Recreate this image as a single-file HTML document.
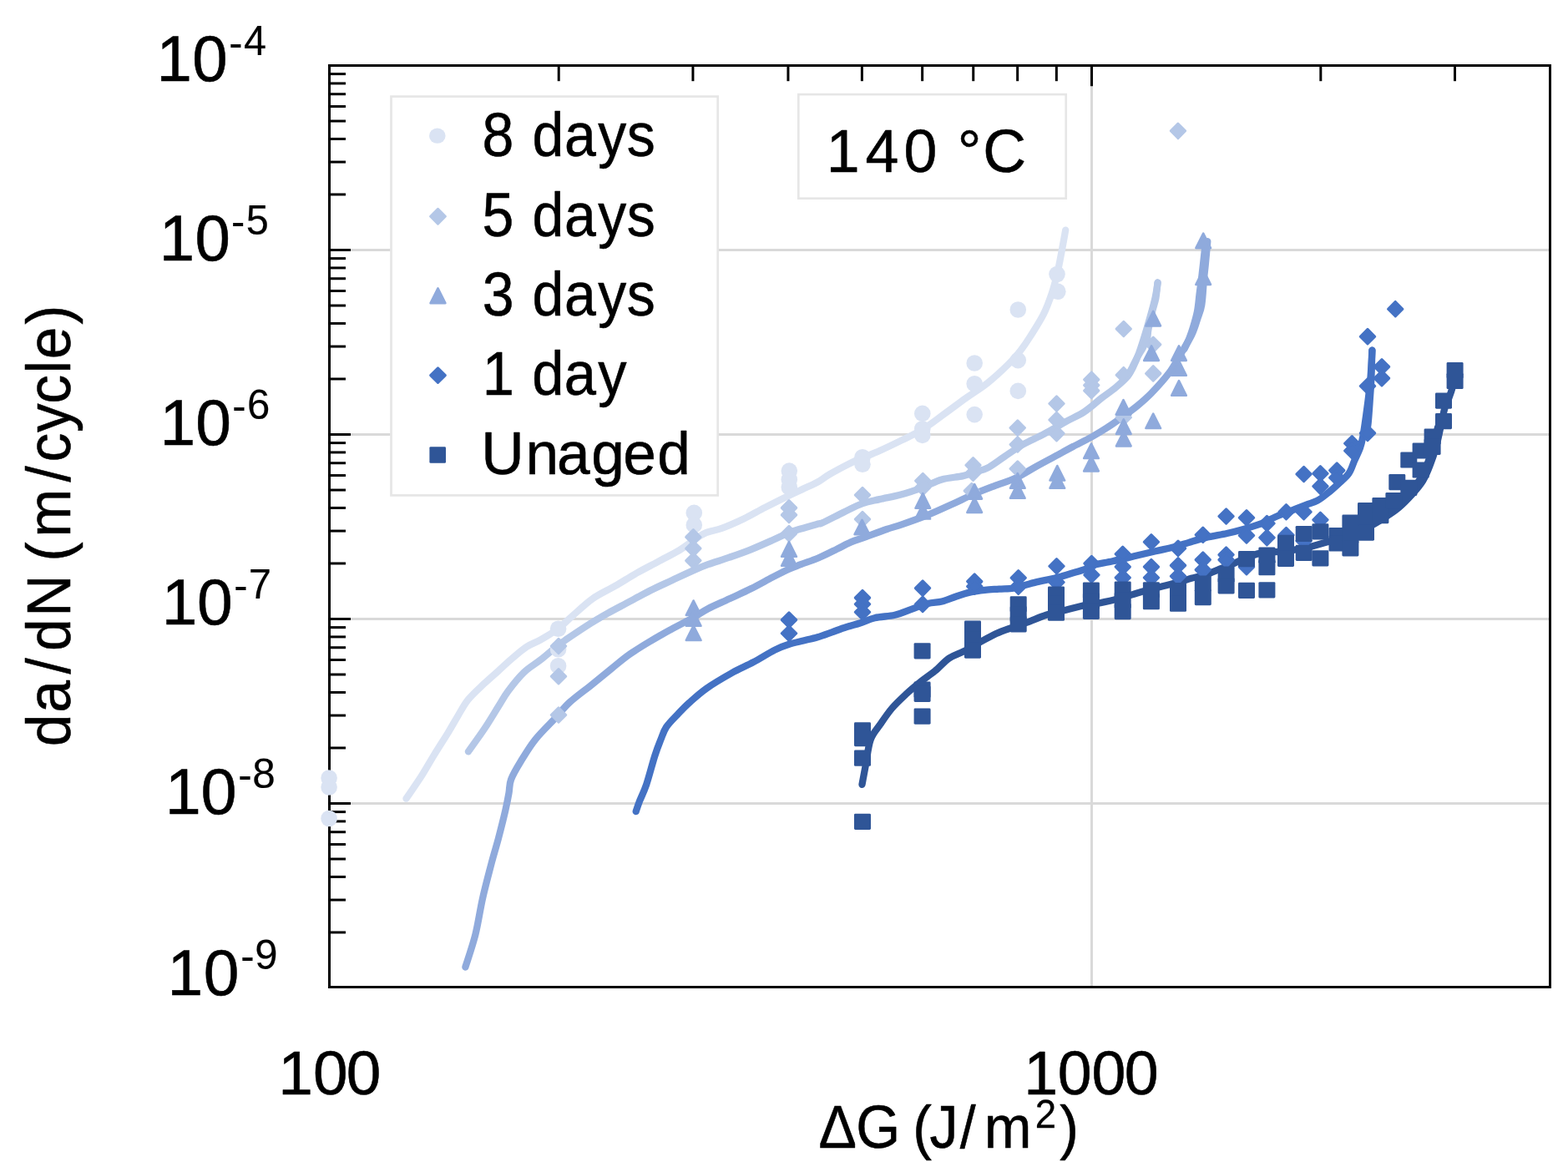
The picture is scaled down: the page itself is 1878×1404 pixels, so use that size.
<!DOCTYPE html>
<html lang="en"><head><meta charset="utf-8"><title>da/dN vs ΔG – 140 °C</title>
<style>html,body{margin:0;padding:0;background:#fff}body{width:1878px;height:1404px;overflow:hidden}svg{display:block}text{font-family:"Liberation Sans",sans-serif;fill:#000;stroke:#000;stroke-width:0.55px;stroke-linejoin:round}</style>
</head><body>
<svg width="1878" height="1404" viewBox="0 0 1878 1404">
<rect width="1878" height="1404" fill="#fff"/>
<g stroke="#d9d9d9" stroke-width="3" fill="none" shape-rendering="crispEdges">
<line x1="394.5" y1="299.5" x2="1856.5" y2="299.5"/>
<line x1="394.5" y1="520.5" x2="1856.5" y2="520.5"/>
<line x1="394.5" y1="741.5" x2="1856.5" y2="741.5"/>
<line x1="394.5" y1="962.5" x2="1856.5" y2="962.5"/>
<line x1="1307.5" y1="78.5" x2="1307.5" y2="1182.5"/>
</g>
<g stroke="#000" stroke-width="3.00" fill="none">
<line x1="394.5" y1="232.97" x2="414.0" y2="232.97"/>
<line x1="394.5" y1="194.06" x2="414.0" y2="194.06"/>
<line x1="394.5" y1="166.44" x2="414.0" y2="166.44"/>
<line x1="394.5" y1="145.03" x2="414.0" y2="145.03"/>
<line x1="394.5" y1="127.53" x2="414.0" y2="127.53"/>
<line x1="394.5" y1="112.73" x2="414.0" y2="112.73"/>
<line x1="394.5" y1="99.92" x2="414.0" y2="99.92"/>
<line x1="394.5" y1="88.61" x2="414.0" y2="88.61"/>
<line x1="394.5" y1="453.97" x2="414.0" y2="453.97"/>
<line x1="394.5" y1="415.06" x2="414.0" y2="415.06"/>
<line x1="394.5" y1="387.44" x2="414.0" y2="387.44"/>
<line x1="394.5" y1="366.03" x2="414.0" y2="366.03"/>
<line x1="394.5" y1="348.53" x2="414.0" y2="348.53"/>
<line x1="394.5" y1="333.73" x2="414.0" y2="333.73"/>
<line x1="394.5" y1="320.92" x2="414.0" y2="320.92"/>
<line x1="394.5" y1="309.61" x2="414.0" y2="309.61"/>
<line x1="394.5" y1="674.97" x2="414.0" y2="674.97"/>
<line x1="394.5" y1="636.06" x2="414.0" y2="636.06"/>
<line x1="394.5" y1="608.44" x2="414.0" y2="608.44"/>
<line x1="394.5" y1="587.03" x2="414.0" y2="587.03"/>
<line x1="394.5" y1="569.53" x2="414.0" y2="569.53"/>
<line x1="394.5" y1="554.73" x2="414.0" y2="554.73"/>
<line x1="394.5" y1="541.92" x2="414.0" y2="541.92"/>
<line x1="394.5" y1="530.61" x2="414.0" y2="530.61"/>
<line x1="394.5" y1="895.97" x2="414.0" y2="895.97"/>
<line x1="394.5" y1="857.06" x2="414.0" y2="857.06"/>
<line x1="394.5" y1="829.44" x2="414.0" y2="829.44"/>
<line x1="394.5" y1="808.03" x2="414.0" y2="808.03"/>
<line x1="394.5" y1="790.53" x2="414.0" y2="790.53"/>
<line x1="394.5" y1="775.73" x2="414.0" y2="775.73"/>
<line x1="394.5" y1="762.92" x2="414.0" y2="762.92"/>
<line x1="394.5" y1="751.61" x2="414.0" y2="751.61"/>
<line x1="394.5" y1="1116.97" x2="414.0" y2="1116.97"/>
<line x1="394.5" y1="1078.06" x2="414.0" y2="1078.06"/>
<line x1="394.5" y1="1050.44" x2="414.0" y2="1050.44"/>
<line x1="394.5" y1="1029.03" x2="414.0" y2="1029.03"/>
<line x1="394.5" y1="1011.53" x2="414.0" y2="1011.53"/>
<line x1="394.5" y1="996.73" x2="414.0" y2="996.73"/>
<line x1="394.5" y1="983.92" x2="414.0" y2="983.92"/>
<line x1="394.5" y1="972.61" x2="414.0" y2="972.61"/>
<line x1="394.5" y1="299.50" x2="420.0" y2="299.50"/>
<line x1="394.5" y1="520.50" x2="420.0" y2="520.50"/>
<line x1="394.5" y1="741.50" x2="420.0" y2="741.50"/>
<line x1="394.5" y1="962.50" x2="420.0" y2="962.50"/>
<line x1="669.22" y1="78.5" x2="669.22" y2="97.2"/>
<line x1="829.92" y1="78.5" x2="829.92" y2="97.2"/>
<line x1="943.94" y1="78.5" x2="943.94" y2="97.2"/>
<line x1="1032.38" y1="78.5" x2="1032.38" y2="97.2"/>
<line x1="1104.64" y1="78.5" x2="1104.64" y2="97.2"/>
<line x1="1165.74" y1="78.5" x2="1165.74" y2="97.2"/>
<line x1="1218.66" y1="78.5" x2="1218.66" y2="97.2"/>
<line x1="1265.34" y1="78.5" x2="1265.34" y2="97.2"/>
<line x1="1581.82" y1="78.5" x2="1581.82" y2="97.2"/>
<line x1="1742.52" y1="78.5" x2="1742.52" y2="97.2"/>
<line x1="1307.50" y1="78.5" x2="1307.50" y2="103.2"/>
<rect x="394.50" y="78.50" width="1462.00" height="1104.00" shape-rendering="crispEdges"/>
</g>
<g fill="none" stroke-width="8.3" stroke-linecap="round" stroke-linejoin="round">
<path d="M486.5 956.7C489.5 952.3 498.8 939.0 504.4 930.3C509.9 921.6 514.4 913.4 519.8 904.6C525.2 895.8 532.0 885.3 536.9 877.3C541.8 869.3 544.9 863.4 548.9 856.8C552.9 850.2 555.8 844.2 560.9 837.9C566.0 831.6 573.7 824.8 579.7 819.1C585.7 813.4 591.1 808.9 596.8 803.8C602.5 798.7 608.1 793.2 613.8 788.4C619.5 783.5 625.2 778.4 630.9 774.7C636.6 771.0 641.7 769.8 648.0 766.2C654.3 762.6 662.2 757.7 668.5 753.0C674.8 748.3 678.8 743.8 685.6 737.8C692.5 731.8 701.1 723.3 709.6 717.3C718.1 711.3 728.1 707.0 736.9 701.9C745.7 696.8 754.0 691.4 762.6 686.5C771.2 681.6 779.7 677.4 788.2 672.8C796.7 668.2 806.7 663.4 813.8 659.1C820.9 654.8 825.8 650.6 830.9 647.2C836.0 643.8 838.9 641.0 844.6 638.6C850.3 636.2 857.4 635.5 865.1 632.6C872.8 629.8 882.2 625.6 890.8 621.5C899.3 617.4 907.6 612.4 916.4 607.9C925.2 603.4 935.2 598.3 943.8 594.2C952.3 590.1 961.7 586.0 967.7 583.1C973.7 580.2 975.7 579.6 980.0 577.1C984.3 574.6 987.2 572.0 993.7 568.2C1000.2 564.4 1012.8 557.8 1019.3 554.5C1025.8 551.2 1027.3 550.9 1033.0 548.5C1038.7 546.1 1045.7 543.5 1053.5 540.0C1061.3 536.5 1071.5 531.6 1080.0 527.4C1088.5 523.1 1096.2 519.8 1104.8 514.5C1113.3 509.2 1122.6 502.0 1131.3 495.7C1140.0 489.4 1148.4 483.0 1156.9 476.9C1165.5 470.8 1174.0 465.8 1182.6 459.0C1191.1 452.2 1201.7 442.3 1208.2 435.9C1214.8 429.5 1217.6 426.1 1221.9 420.5C1226.2 414.9 1229.6 409.9 1234.2 402.6C1238.8 395.3 1245.3 385.4 1249.6 376.9C1253.9 368.3 1256.9 359.9 1259.8 351.3C1262.7 342.8 1264.7 334.2 1266.7 325.6C1268.7 317.1 1270.2 308.3 1271.8 300.0C1273.4 291.7 1275.5 279.7 1276.2 275.6" stroke="#dae3f3"/>
<path d="M560.9 900.3C564.0 895.9 573.7 882.8 579.7 873.8C585.7 864.8 592.0 854.2 596.8 846.5C601.6 838.8 603.6 834.5 608.7 827.7C613.8 820.9 621.0 811.8 627.5 805.5C634.0 799.2 641.2 795.5 648.0 790.1C654.8 784.7 663.6 776.9 668.5 773.0C673.4 769.1 671.4 770.7 677.1 766.8C682.8 762.9 694.2 755.1 702.7 749.7C711.2 744.3 719.9 739.2 728.4 734.4C736.9 729.6 745.5 725.3 754.0 720.7C762.5 716.1 771.2 711.3 779.7 707.0C788.2 702.7 796.8 699.0 805.3 695.0C813.8 691.0 823.8 686.2 830.9 683.1C838.0 680.0 840.9 678.8 848.0 676.2C855.1 673.6 865.2 670.7 873.7 667.7C882.2 664.7 890.8 661.7 899.3 658.3C907.8 654.9 917.6 650.5 925.0 647.2C932.4 643.9 938.1 640.9 943.8 638.6C949.5 636.3 953.1 635.4 959.1 633.5C965.1 631.6 975.7 628.7 980.0 627.5C984.3 626.3 980.0 628.6 985.1 626.3C990.2 624.0 1002.8 617.4 1010.8 613.5C1018.8 609.6 1025.9 605.8 1033.0 603.2C1040.1 600.6 1045.8 599.9 1053.5 598.1C1061.2 596.3 1070.4 594.9 1079.1 592.5C1087.8 590.1 1097.5 586.8 1105.6 583.8C1113.7 580.8 1119.9 576.7 1127.9 574.4C1135.9 572.1 1146.7 571.7 1153.5 570.1C1160.3 568.5 1164.1 566.6 1168.9 565.0C1173.8 563.4 1176.9 563.7 1182.6 560.7C1188.3 557.7 1196.0 551.7 1203.1 547.0C1210.2 542.3 1217.3 537.0 1225.3 532.5C1233.3 528.0 1242.4 524.3 1250.9 519.7C1259.5 515.1 1268.6 509.5 1276.6 505.1C1284.6 500.7 1291.7 497.9 1298.8 493.2C1305.9 488.5 1313.0 481.8 1319.3 476.9C1325.6 472.0 1331.3 468.4 1336.4 464.1C1341.5 459.8 1346.7 455.3 1350.1 451.3C1353.5 447.3 1354.7 444.7 1357.0 440.0C1359.3 435.3 1361.2 431.3 1364.1 423.1C1367.0 414.9 1371.3 401.2 1374.4 390.6C1377.5 380.1 1380.9 368.5 1382.9 359.8C1385.0 351.1 1386.1 342.1 1386.7 338.5" stroke="#b4c7e7"/>
<path d="M1386.5 338.5C1386.1 341.6 1385.4 351.6 1384.3 357.4C1383.2 363.2 1381.5 367.2 1380.0 373.4C1378.5 379.6 1376.4 389.4 1375.4 394.8C1374.4 400.2 1375.0 401.9 1373.9 405.5C1372.9 409.1 1371.0 412.6 1369.1 416.2C1367.2 419.8 1364.8 423.0 1362.7 426.9C1360.6 430.8 1358.2 435.8 1356.3 439.7C1354.3 443.6 1351.9 448.3 1351.0 450.0" stroke="#b4c7e7"/>
<path d="M1444.0 289.5C1443.5 294.0 1441.8 309.2 1441.0 316.6C1440.2 324.1 1439.7 328.3 1439.0 334.2C1438.3 340.1 1437.4 345.5 1436.6 352.0C1435.8 358.5 1435.3 366.3 1434.0 373.0C1432.7 379.7 1430.6 386.7 1429.0 392.0C1427.4 397.3 1426.2 400.7 1424.5 405.0C1422.8 409.3 1419.5 415.8 1418.5 418.0" stroke="#8faadc"/>
<path d="M557.4 1158.5C559.4 1152.0 566.0 1133.1 569.4 1119.5C572.8 1105.9 574.8 1090.8 577.9 1076.8C581.0 1062.8 585.1 1047.7 588.2 1035.7C591.4 1023.7 593.9 1015.8 596.8 1005.0C599.6 994.2 603.2 980.0 605.3 970.8C607.4 961.6 608.4 956.2 609.5 950.0C610.6 943.8 609.7 940.1 612.1 933.7C614.5 927.3 619.2 919.5 624.1 911.5C629.0 903.5 634.4 894.3 641.2 885.8C648.0 877.2 658.3 867.6 665.1 860.2C671.9 852.8 675.1 848.0 682.2 841.4C689.3 834.8 699.6 827.5 707.9 820.9C716.2 814.2 724.1 807.7 731.8 801.5C739.5 795.3 746.0 789.5 754.0 783.9C762.0 778.3 771.2 772.8 779.7 767.7C788.2 762.6 796.8 757.9 805.3 753.2C813.8 748.5 823.8 743.5 830.9 739.5C838.0 735.5 840.9 732.9 848.0 729.2C855.1 725.5 865.2 721.3 873.7 717.3C882.2 713.3 890.8 709.6 899.3 705.3C907.8 701.0 917.6 695.5 925.0 691.6C932.4 687.8 938.1 684.8 943.8 682.2C949.5 679.6 953.1 678.5 959.1 676.2C965.1 673.9 972.8 671.5 980.0 668.5C987.2 665.5 995.7 661.1 1002.2 657.9C1008.8 654.7 1013.6 651.8 1019.3 649.4C1025.0 647.0 1029.3 646.0 1036.4 643.4C1043.5 640.8 1054.7 636.5 1062.0 634.0C1069.3 631.5 1071.9 631.1 1080.0 628.3C1088.1 625.5 1100.8 621.1 1110.8 617.1C1120.8 613.1 1130.7 608.4 1139.8 604.3C1148.9 600.2 1157.0 596.0 1165.5 592.3C1174.0 588.6 1182.5 585.4 1191.1 582.1C1199.6 578.8 1208.2 576.6 1216.8 572.6C1225.3 568.6 1233.9 562.8 1242.4 558.1C1250.9 553.4 1260.9 548.2 1268.0 544.4C1275.1 540.5 1278.5 538.5 1285.1 535.0C1291.7 531.5 1300.3 527.5 1307.4 523.5C1314.5 519.5 1321.6 515.2 1327.9 511.1C1334.2 507.0 1339.3 503.2 1345.0 499.1C1350.7 495.0 1356.4 491.0 1362.1 486.3C1367.8 481.6 1372.8 477.4 1379.1 470.9C1385.4 464.3 1394.2 454.7 1400.0 447.0C1405.8 439.3 1409.1 432.5 1413.7 424.8C1418.3 417.1 1424.0 408.0 1427.4 400.9C1430.8 393.8 1432.2 388.1 1434.2 382.1C1436.2 376.1 1438.0 373.0 1439.3 365.0C1440.6 357.0 1441.2 342.3 1441.9 334.2C1442.7 326.1 1443.1 324.1 1443.8 316.6C1444.5 309.1 1445.9 293.8 1446.3 289.2" stroke="#8faadc"/>
<path d="M761.7 972.1C762.4 970.0 763.9 965.2 766.0 959.8C768.1 954.4 771.1 948.9 774.2 939.8C777.3 930.7 781.5 914.0 784.4 905.1C787.2 896.2 789.0 892.0 791.3 886.3C793.6 880.6 794.7 876.0 798.1 870.9C801.5 865.8 807.2 860.4 811.8 855.6C816.4 850.8 819.8 847.0 825.5 841.9C831.2 836.8 837.5 830.8 846.0 824.8C854.5 818.8 867.4 811.3 876.8 806.0C886.2 800.7 893.9 797.8 902.4 793.2C910.9 788.6 920.9 782.2 928.0 778.6C935.1 775.0 939.4 773.6 945.1 771.8C950.8 769.9 956.5 768.9 962.2 767.5C967.9 766.1 973.6 764.9 979.3 763.2C985.0 761.5 990.7 759.3 996.4 757.3C1002.1 755.3 1007.8 753.1 1013.5 751.3C1019.2 749.4 1024.9 748.1 1030.6 746.2C1036.3 744.4 1040.8 741.8 1047.7 740.2C1054.6 738.6 1064.9 738.4 1071.8 736.8C1078.7 735.2 1082.4 733.1 1088.9 730.8C1095.5 728.5 1104.5 724.8 1111.1 723.1C1117.6 721.4 1122.5 721.9 1128.2 720.5C1133.9 719.1 1139.6 716.4 1145.3 714.5C1151.0 712.6 1156.7 710.7 1162.4 709.4C1168.1 708.1 1173.8 707.4 1179.5 706.8C1185.2 706.2 1190.9 706.0 1196.6 705.6C1202.3 705.2 1208.6 705.4 1213.7 704.6C1218.8 703.8 1222.3 702.2 1227.4 700.9C1232.5 699.6 1238.1 698.0 1244.4 696.6C1250.7 695.2 1258.7 693.9 1265.0 692.3C1271.3 690.7 1276.4 688.9 1282.1 687.2C1287.8 685.5 1294.9 683.7 1299.1 682.1C1303.3 680.5 1301.5 679.0 1307.1 677.4C1312.7 675.8 1324.2 674.1 1332.7 672.3C1341.2 670.4 1349.9 668.3 1358.4 666.3C1367.0 664.3 1376.0 662.1 1384.0 660.3C1392.0 658.4 1399.7 656.9 1406.2 655.2C1412.8 653.5 1417.0 652.0 1423.3 650.1C1429.6 648.2 1436.1 646.0 1443.8 644.1C1451.5 642.2 1462.4 640.6 1469.5 639.0C1476.6 637.4 1480.0 636.6 1486.6 634.7C1493.1 632.9 1501.7 630.6 1508.8 627.9C1515.9 625.2 1522.9 621.2 1529.3 618.5C1535.7 615.8 1541.3 613.9 1547.1 611.6C1552.9 609.3 1559.1 606.8 1564.2 604.8C1569.3 602.8 1573.6 602.0 1577.9 599.7C1582.2 597.4 1585.5 594.5 1589.8 591.1C1594.1 587.7 1599.2 583.1 1603.5 579.1C1607.8 575.1 1612.4 571.7 1615.5 567.2C1618.6 562.7 1619.9 557.3 1622.1 552.2C1624.3 547.1 1627.2 541.6 1628.9 536.8C1630.6 532.0 1631.2 529.2 1632.3 523.2C1633.4 517.2 1634.6 508.9 1635.7 500.9C1636.8 492.9 1638.1 483.8 1639.1 475.3C1640.1 466.8 1641.0 459.0 1641.7 449.7C1642.4 440.4 1643.1 424.7 1643.4 419.7" stroke="#4472c4"/>
<path d="M1643.4 419.7C1643.2 425.2 1642.8 442.9 1642.4 452.6C1642.0 462.4 1641.4 469.5 1640.8 478.2C1640.2 486.9 1639.5 497.7 1638.8 505.0C1638.1 512.3 1636.9 519.2 1636.5 522.0" stroke="#4472c4"/>
<path d="M1032.5 939.8C1033.2 936.0 1035.1 925.8 1036.8 916.8C1038.5 907.8 1039.7 894.3 1042.7 886.0C1045.7 877.7 1050.4 873.5 1054.7 867.2C1059.0 860.9 1063.3 854.4 1068.4 848.4C1073.5 842.4 1079.8 836.6 1085.5 831.3C1091.2 826.0 1096.9 821.4 1102.6 816.8C1108.3 812.2 1114.0 808.6 1119.7 803.9C1125.4 799.2 1131.1 792.4 1136.8 788.5C1142.5 784.6 1148.1 783.4 1153.8 780.5C1159.5 777.6 1164.3 774.5 1170.9 770.9C1177.5 767.3 1186.1 762.3 1193.2 759.0C1200.3 755.7 1207.4 753.6 1213.7 751.3C1220.0 749.0 1224.2 747.7 1230.8 745.3C1237.3 742.9 1245.9 739.1 1253.0 736.8C1260.1 734.5 1265.8 733.6 1273.5 731.6C1281.2 729.6 1292.1 726.5 1299.1 725.0C1306.1 723.5 1308.6 724.1 1315.6 722.7C1322.6 721.3 1332.8 719.1 1341.3 716.8C1349.8 714.5 1358.4 711.5 1366.9 709.1C1375.5 706.7 1384.9 704.2 1392.6 702.2C1400.3 700.2 1407.4 698.7 1413.1 697.1C1418.8 695.5 1421.7 694.2 1426.8 692.8C1431.9 691.4 1438.1 690.4 1443.8 688.5C1449.5 686.6 1455.2 684.0 1460.9 681.7C1466.6 679.4 1472.3 677.3 1478.0 674.9C1483.7 672.5 1489.4 669.3 1495.1 667.2C1500.8 665.1 1505.1 663.2 1512.2 662.1C1519.3 661.0 1529.2 661.3 1537.9 660.3C1546.6 659.3 1555.6 658.0 1564.2 656.1C1572.8 654.2 1581.2 651.5 1589.8 649.2C1598.3 646.9 1607.0 645.5 1615.5 642.4C1624.0 639.3 1634.0 634.1 1641.1 630.4C1648.2 626.7 1652.5 623.9 1658.2 620.2C1663.9 616.5 1669.6 613.1 1675.3 608.2C1681.0 603.4 1687.6 596.5 1692.4 591.1C1697.2 585.7 1701.0 581.4 1704.4 575.7C1707.8 570.0 1710.4 563.5 1712.9 556.9C1715.5 550.3 1717.7 543.5 1719.7 536.4C1721.7 529.3 1723.2 521.9 1724.9 514.2C1726.6 506.5 1728.4 496.2 1730.0 490.3C1731.6 484.4 1733.0 482.9 1734.6 478.7C1736.1 474.5 1738.1 469.8 1739.3 465.0C1740.5 460.2 1741.1 452.5 1741.5 450.0" stroke="#2f5597"/>
<path d="M1640.0 628.5C1642.6 626.8 1650.1 621.8 1655.5 618.0C1660.9 614.2 1666.8 610.4 1672.5 605.5C1678.2 600.6 1684.7 593.9 1689.5 588.5C1694.3 583.1 1698.1 578.7 1701.5 573.0C1704.9 567.3 1707.4 561.0 1710.0 554.5C1712.6 548.0 1715.0 541.1 1717.0 534.0C1719.0 526.9 1721.2 515.7 1722.0 512.0" stroke="#2f5597"/>
</g>
<g fill="#dae3f3"><circle cx="394.1" cy="932.0" r="9.8"/><circle cx="394.1" cy="943.0" r="9.8"/><circle cx="394.1" cy="980.5" r="9.8"/><circle cx="668.6" cy="753.3" r="9.8"/><circle cx="668.6" cy="777.7" r="9.8"/><circle cx="668.6" cy="797.7" r="9.8"/><circle cx="831.3" cy="614.4" r="9.8"/><circle cx="831.3" cy="628.9" r="9.8"/><circle cx="945.3" cy="564.1" r="9.8"/><circle cx="945.3" cy="574.4" r="9.8"/><circle cx="945.3" cy="583.8" r="9.8"/><circle cx="1033.0" cy="547.7" r="9.8"/><circle cx="1033.0" cy="556.2" r="9.8"/><circle cx="1104.8" cy="495.4" r="9.8"/><circle cx="1104.8" cy="513.7" r="9.8"/><circle cx="1104.8" cy="521.4" r="9.8"/><circle cx="1167.2" cy="435.0" r="9.8"/><circle cx="1167.2" cy="459.8" r="9.8"/><circle cx="1167.2" cy="496.6" r="9.8"/><circle cx="1219.3" cy="371.0" r="9.8"/><circle cx="1219.3" cy="431.6" r="9.8"/><circle cx="1219.3" cy="468.4" r="9.8"/><circle cx="1266.0" cy="328.5" r="9.8"/><circle cx="1266.8" cy="349.3" r="9.8"/></g>
<g fill="#b4c7e7" stroke="#b4c7e7" stroke-width="2.9" stroke-linejoin="round"><path d="M669.0 765.2L677.8 774.0L669.0 782.8L660.2 774.0Z"/><path d="M669.0 801.5L677.8 810.2L669.0 819.0L660.2 810.2Z"/><path d="M669.0 847.8L677.8 856.5L669.0 865.2L660.2 856.5Z"/><path d="M830.4 634.6L839.1 643.4L830.4 652.1L821.6 643.4Z"/><path d="M830.4 648.4L839.1 657.1L830.4 665.9L821.6 657.1Z"/><path d="M830.4 662.9L839.1 671.6L830.4 680.4L821.6 671.6Z"/><path d="M945.0 599.6L953.8 608.4L945.0 617.1L936.2 608.4Z"/><path d="M945.0 608.1L953.8 616.9L945.0 625.6L936.2 616.9Z"/><path d="M945.0 630.4L953.8 639.1L945.0 647.9L936.2 639.1Z"/><path d="M1033.0 584.2L1041.8 593.0L1033.0 601.8L1024.2 593.0Z"/><path d="M1033.0 613.2L1041.8 622.0L1033.0 630.8L1024.2 622.0Z"/><path d="M1105.3 567.2L1114.0 576.0L1105.3 584.8L1096.5 576.0Z"/><path d="M1105.3 575.2L1114.0 584.0L1105.3 592.8L1096.5 584.0Z"/><path d="M1165.5 548.5L1174.2 557.3L1165.5 566.0L1156.8 557.3Z"/><path d="M1165.5 558.0L1174.2 566.7L1165.5 575.5L1156.8 566.7Z"/><path d="M1163.8 579.2L1172.5 588.0L1163.8 596.8L1155.0 588.0Z"/><path d="M1218.8 503.9L1227.5 512.6L1218.8 521.4L1210.0 512.6Z"/><path d="M1218.8 523.8L1227.5 532.5L1218.8 541.2L1210.0 532.5Z"/><path d="M1218.8 552.8L1227.5 561.5L1218.8 570.2L1210.0 561.5Z"/><path d="M1265.5 474.8L1274.2 483.5L1265.5 492.2L1256.8 483.5Z"/><path d="M1265.5 494.2L1274.2 503.0L1265.5 511.8L1256.8 503.0Z"/><path d="M1265.5 510.5L1274.2 519.2L1265.5 528.0L1256.8 519.2Z"/><path d="M1307.2 445.9L1316.0 454.7L1307.2 463.4L1298.5 454.7Z"/><path d="M1307.2 452.8L1316.0 461.5L1307.2 470.2L1298.5 461.5Z"/><path d="M1307.2 459.2L1316.0 468.0L1307.2 476.8L1298.5 468.0Z"/><path d="M1345.8 385.2L1354.5 394.0L1345.8 402.8L1337.0 394.0Z"/><path d="M1345.8 440.4L1354.5 449.2L1345.8 457.9L1337.0 449.2Z"/><path d="M1345.8 491.2L1354.5 500.0L1345.8 508.8L1337.0 500.0Z"/><path d="M1381.2 404.1L1390.0 412.8L1381.2 421.6L1372.5 412.8Z"/><path d="M1381.2 438.6L1390.0 447.4L1381.2 456.1L1372.5 447.4Z"/><path d="M1410.9 148.1L1419.7 156.8L1410.9 165.6L1402.2 156.8Z"/></g>
<g fill="#8faadc" stroke="#8faadc" stroke-width="2.6" stroke-linejoin="round"><path d="M830.6 719.5L839.5 737.0L821.8 737.0Z"/><path d="M830.6 732.2L839.5 749.8L821.8 749.8Z"/><path d="M830.6 749.5L839.5 767.0L821.8 767.0Z"/><path d="M945.0 649.2L953.9 666.8L936.1 666.8Z"/><path d="M945.0 660.2L953.9 677.8L936.1 677.8Z"/><path d="M1032.5 622.8L1041.3 640.2L1023.6 640.2Z"/><path d="M1105.3 591.2L1114.1 608.8L1096.5 608.8Z"/><path d="M1105.3 604.0L1114.1 621.5L1096.5 621.5Z"/><path d="M1167.2 580.1L1176.0 597.6L1158.4 597.6Z"/><path d="M1167.2 596.4L1176.0 613.9L1158.4 613.9Z"/><path d="M1218.8 567.2L1227.6 584.8L1210.0 584.8Z"/><path d="M1218.8 579.2L1227.6 596.8L1210.0 596.8Z"/><path d="M1266.3 558.0L1275.1 575.5L1257.5 575.5Z"/><path d="M1266.3 567.2L1275.1 584.8L1257.5 584.8Z"/><path d="M1307.0 531.5L1315.8 549.0L1298.2 549.0Z"/><path d="M1307.0 546.9L1315.8 564.4L1298.2 564.4Z"/><path d="M1345.5 479.2L1354.3 496.8L1336.7 496.8Z"/><path d="M1345.8 502.4L1354.6 519.9L1337.0 519.9Z"/><path d="M1345.8 516.9L1354.6 534.4L1337.0 534.4Z"/><path d="M1381.2 372.9L1390.0 390.4L1372.4 390.4Z"/><path d="M1379.1 414.4L1387.9 431.9L1370.2 431.9Z"/><path d="M1381.2 495.6L1390.0 513.0L1372.4 513.0Z"/><path d="M1412.0 414.4L1420.8 431.9L1403.2 431.9Z"/><path d="M1412.0 432.2L1420.8 449.8L1403.2 449.8Z"/><path d="M1412.0 456.2L1420.8 473.8L1403.2 473.8Z"/><path d="M1441.2 279.6L1450.0 297.1L1432.4 297.1Z"/><path d="M1441.2 323.4L1450.0 340.9L1432.4 340.9Z"/></g>
<g fill="#4472c4" stroke="#4472c4" stroke-width="2.9" stroke-linejoin="round"><path d="M945.0 733.9L953.8 742.6L945.0 751.4L936.2 742.6Z"/><path d="M945.0 750.0L953.8 758.8L945.0 767.5L936.2 758.8Z"/><path d="M1033.0 707.4L1041.8 716.1L1033.0 724.9L1024.2 716.1Z"/><path d="M1033.0 715.0L1041.8 723.8L1033.0 732.5L1024.2 723.8Z"/><path d="M1033.0 724.5L1041.8 733.2L1033.0 742.0L1024.2 733.2Z"/><path d="M1105.1 695.9L1113.8 704.6L1105.1 713.4L1096.3 704.6Z"/><path d="M1105.1 715.1L1113.8 723.9L1105.1 732.6L1096.3 723.9Z"/><path d="M1167.2 687.9L1176.0 696.6L1167.2 705.4L1158.5 696.6Z"/><path d="M1167.2 693.9L1176.0 702.6L1167.2 711.4L1158.5 702.6Z"/><path d="M1219.7 683.5L1228.5 692.3L1219.7 701.0L1211.0 692.3Z"/><path d="M1219.7 693.9L1228.5 702.6L1219.7 711.4L1211.0 702.6Z"/><path d="M1265.5 669.5L1274.2 678.3L1265.5 687.0L1256.8 678.3Z"/><path d="M1265.5 688.6L1274.2 697.4L1265.5 706.1L1256.8 697.4Z"/><path d="M1307.4 666.2L1316.2 675.0L1307.4 683.8L1298.7 675.0Z"/><path d="M1307.4 680.0L1316.2 688.7L1307.4 697.5L1298.7 688.7Z"/><path d="M1344.7 655.0L1353.5 663.8L1344.7 672.5L1336.0 663.8Z"/><path d="M1344.7 670.4L1353.5 679.1L1344.7 687.9L1336.0 679.1Z"/><path d="M1344.7 683.2L1353.5 692.0L1344.7 700.8L1336.0 692.0Z"/><path d="M1378.9 640.5L1387.7 649.2L1378.9 658.0L1370.2 649.2Z"/><path d="M1378.9 670.4L1387.7 679.1L1378.9 687.9L1370.2 679.1Z"/><path d="M1378.9 683.2L1387.7 692.0L1378.9 700.8L1370.2 692.0Z"/><path d="M1411.0 648.1L1419.8 656.9L1411.0 665.6L1402.2 656.9Z"/><path d="M1411.0 668.6L1419.8 677.4L1411.0 686.1L1402.2 677.4Z"/><path d="M1411.0 681.5L1419.8 690.3L1411.0 699.0L1402.2 690.3Z"/><path d="M1440.8 632.0L1449.5 640.7L1440.8 649.5L1432.0 640.7Z"/><path d="M1440.8 661.9L1449.5 670.6L1440.8 679.4L1432.0 670.6Z"/><path d="M1440.8 673.9L1449.5 682.6L1440.8 691.4L1432.0 682.6Z"/><path d="M1468.6 609.8L1477.3 618.5L1468.6 627.2L1459.8 618.5Z"/><path d="M1468.6 655.9L1477.3 664.6L1468.6 673.4L1459.8 664.6Z"/><path d="M1468.6 661.9L1477.3 670.6L1468.6 679.4L1459.8 670.6Z"/><path d="M1493.0 611.5L1501.8 620.2L1493.0 629.0L1484.2 620.2Z"/><path d="M1493.0 632.8L1501.8 641.5L1493.0 650.2L1484.2 641.5Z"/><path d="M1493.0 670.4L1501.8 679.1L1493.0 687.9L1484.2 679.1Z"/><path d="M1517.4 618.2L1526.2 627.0L1517.4 635.8L1508.7 627.0Z"/><path d="M1517.4 635.4L1526.2 644.1L1517.4 652.9L1508.7 644.1Z"/><path d="M1517.4 664.5L1526.2 673.2L1517.4 682.0L1508.7 673.2Z"/><path d="M1540.5 604.5L1549.2 613.3L1540.5 622.0L1531.8 613.3Z"/><path d="M1540.5 632.2L1549.2 641.0L1540.5 649.8L1531.8 641.0Z"/><path d="M1561.6 604.5L1570.3 613.3L1561.6 622.0L1552.8 613.3Z"/><path d="M1561.6 639.2L1570.3 648.0L1561.6 656.8L1552.8 648.0Z"/><path d="M1561.6 559.2L1570.3 568.0L1561.6 576.8L1552.8 568.0Z"/><path d="M1581.4 573.9L1590.2 582.6L1581.4 591.4L1572.7 582.6Z"/><path d="M1581.4 614.0L1590.2 622.7L1581.4 631.5L1572.7 622.7Z"/><path d="M1581.4 558.5L1590.2 567.3L1581.4 576.0L1572.7 567.3Z"/><path d="M1601.2 554.9L1610.0 563.6L1601.2 572.4L1592.5 563.6Z"/><path d="M1601.2 563.5L1610.0 572.3L1601.2 581.0L1592.5 572.3Z"/><path d="M1619.3 522.5L1628.0 531.3L1619.3 540.0L1610.5 531.3Z"/><path d="M1619.3 531.2L1628.0 540.0L1619.3 548.8L1610.5 540.0Z"/><path d="M1638.0 394.4L1646.8 403.2L1638.0 411.9L1629.2 403.2Z"/><path d="M1638.0 453.8L1646.8 462.5L1638.0 471.2L1629.2 462.5Z"/><path d="M1638.0 510.1L1646.8 518.9L1638.0 527.6L1629.2 518.9Z"/><path d="M1655.0 430.6L1663.8 439.4L1655.0 448.1L1646.2 439.4Z"/><path d="M1655.0 444.4L1663.8 453.1L1655.0 461.9L1646.2 453.1Z"/><path d="M1671.3 361.4L1680.0 370.2L1671.3 378.9L1662.5 370.2Z"/></g>
<g fill="#2f5597"><rect x="1023.0" y="865.3" width="20.0" height="19.2" rx="1.4"/><rect x="1023.0" y="875.0" width="20.0" height="19.2" rx="1.4"/><rect x="1023.0" y="898.6" width="20.0" height="19.2" rx="1.4"/><rect x="1023.0" y="974.7" width="20.0" height="19.2" rx="1.4"/><rect x="1094.6" y="770.2" width="20.0" height="19.2" rx="1.4"/><rect x="1094.6" y="816.6" width="20.0" height="19.2" rx="1.4"/><rect x="1094.6" y="821.7" width="20.0" height="19.2" rx="1.4"/><rect x="1094.6" y="848.5" width="20.0" height="19.2" rx="1.4"/><rect x="1155.0" y="743.4" width="20.0" height="19.2" rx="1.4"/><rect x="1155.0" y="756.2" width="20.0" height="19.2" rx="1.4"/><rect x="1155.0" y="769.5" width="20.0" height="19.2" rx="1.4"/><rect x="1209.7" y="714.3" width="20.0" height="19.2" rx="1.4"/><rect x="1209.7" y="726.3" width="20.0" height="19.2" rx="1.4"/><rect x="1209.7" y="738.3" width="20.0" height="19.2" rx="1.4"/><rect x="1255.0" y="702.4" width="20.0" height="19.2" rx="1.4"/><rect x="1255.0" y="713.5" width="20.0" height="19.2" rx="1.4"/><rect x="1255.0" y="724.6" width="20.0" height="19.2" rx="1.4"/><rect x="1296.9" y="697.4" width="20.0" height="19.2" rx="1.4"/><rect x="1296.9" y="710.4" width="20.0" height="19.2" rx="1.4"/><rect x="1296.9" y="722.7" width="20.0" height="19.2" rx="1.4"/><rect x="1334.7" y="696.4" width="20.0" height="19.2" rx="1.4"/><rect x="1334.7" y="709.7" width="20.0" height="19.2" rx="1.4"/><rect x="1334.7" y="723.0" width="20.0" height="19.2" rx="1.4"/><rect x="1368.9" y="697.2" width="20.0" height="19.2" rx="1.4"/><rect x="1368.9" y="711.1" width="20.0" height="19.2" rx="1.4"/><rect x="1401.0" y="698.1" width="20.0" height="19.2" rx="1.4"/><rect x="1401.0" y="713.6" width="20.0" height="19.2" rx="1.4"/><rect x="1430.8" y="689.5" width="20.0" height="19.2" rx="1.4"/><rect x="1430.8" y="706.0" width="20.0" height="19.2" rx="1.4"/><rect x="1458.6" y="678.4" width="20.0" height="19.2" rx="1.4"/><rect x="1458.6" y="692.3" width="20.0" height="19.2" rx="1.4"/><rect x="1483.0" y="660.1" width="20.0" height="19.2" rx="1.4"/><rect x="1483.0" y="697.8" width="20.0" height="19.2" rx="1.4"/><rect x="1507.4" y="655.4" width="20.0" height="19.2" rx="1.4"/><rect x="1507.4" y="670.1" width="20.0" height="19.2" rx="1.4"/><rect x="1507.4" y="697.2" width="20.0" height="19.2" rx="1.4"/><rect x="1530.0" y="640.8" width="20.0" height="19.2" rx="1.4"/><rect x="1530.0" y="659.8" width="20.0" height="19.2" rx="1.4"/><rect x="1551.7" y="629.9" width="20.0" height="19.2" rx="1.4"/><rect x="1551.7" y="652.8" width="20.0" height="19.2" rx="1.4"/><rect x="1571.4" y="627.3" width="20.0" height="19.2" rx="1.4"/><rect x="1571.4" y="659.3" width="20.0" height="19.2" rx="1.4"/><rect x="1591.5" y="631.9" width="20.0" height="19.2" rx="1.4"/><rect x="1591.5" y="641.4" width="20.0" height="19.2" rx="1.4"/><rect x="1607.4" y="616.6" width="20.0" height="19.2" rx="1.4"/><rect x="1607.4" y="631.9" width="20.0" height="19.2" rx="1.4"/><rect x="1607.4" y="647.3" width="20.0" height="19.2" rx="1.4"/><rect x="1626.0" y="602.0" width="20.0" height="19.2" rx="1.4"/><rect x="1626.0" y="619.1" width="20.0" height="19.2" rx="1.4"/><rect x="1626.0" y="628.5" width="20.0" height="19.2" rx="1.4"/><rect x="1643.4" y="596.0" width="20.0" height="19.2" rx="1.4"/><rect x="1643.4" y="608.0" width="20.0" height="19.2" rx="1.4"/><rect x="1663.3" y="568.0" width="20.0" height="19.2" rx="1.4"/><rect x="1659.4" y="590.0" width="20.0" height="19.2" rx="1.4"/><rect x="1677.3" y="541.4" width="20.0" height="19.2" rx="1.4"/><rect x="1677.3" y="574.7" width="20.0" height="19.2" rx="1.4"/><rect x="1691.6" y="530.4" width="20.0" height="19.2" rx="1.4"/><rect x="1691.6" y="553.4" width="20.0" height="19.2" rx="1.4"/><rect x="1705.6" y="513.4" width="20.0" height="19.2" rx="1.4"/><rect x="1705.6" y="525.7" width="20.0" height="19.2" rx="1.4"/><rect x="1719.0" y="470.5" width="20.0" height="19.2" rx="1.4"/><rect x="1719.0" y="495.0" width="20.0" height="19.2" rx="1.4"/><rect x="1732.6" y="434.1" width="20.0" height="19.2" rx="1.4"/><rect x="1732.6" y="446.9" width="20.0" height="19.2" rx="1.4"/></g>
<rect x="468.5" y="115.6" width="391.2" height="477.8" fill="#fff" stroke="#e6e6e6" stroke-width="2.7"/>
<ellipse cx="523.8" cy="162.7" rx="9.8" ry="9.1" fill="#dae3f3"/>
<g fill="#b4c7e7" stroke="#b4c7e7" stroke-width="2.9" stroke-linejoin="round"><path d="M524.5 250.3L533.4 259.2L524.5 268.1L515.6 259.2Z"/></g>
<g fill="#8faadc" stroke="#8faadc" stroke-width="2.6" stroke-linejoin="round"><path d="M524.5 345.4L533.4 363.2L515.6 363.2Z"/></g>
<g fill="#4472c4" stroke="#4472c4" stroke-width="2.9" stroke-linejoin="round"><path d="M524.5 440.7L533.4 449.6L524.5 458.5L515.6 449.6Z"/></g>
<g fill="#2f5597"><rect x="514.4" y="535.2" width="19.6" height="19.6" rx="1.4"/></g>
<text transform="scale(0.9289,1)" x="621.8 662.5 686.2 727.7 771.2 808.2" y="187.2" font-size="73.2">8 days</text>
<text transform="scale(0.9289,1)" x="621.8 662.5 686.2 727.7 771.2 808.2" y="282.6" font-size="73.2">5 days</text>
<text transform="scale(0.9289,1)" x="621.9 662.7 686.2 727.7 771.2 808.2" y="378.2" font-size="73.2">3 days</text>
<text transform="scale(0.9382,1)" x="615.9 656.6 679.2 720.3 763.5" y="472.7" font-size="73.2">1 day</text>
<text transform="scale(0.9741,1)" x="591.7 646.3 684.8 727.1 766.2 808.2" y="568.1" font-size="73.2">Unaged</text>
<rect x="956.3" y="113.1" width="320.4" height="124.6" fill="#fff" stroke="#e6e6e6" stroke-width="2.7"/>
<text transform="scale(0.9797,1)" x="1010.2 1057.9 1105.0 1145.7 1170.5 1201.6" y="205.6" font-size="73.2">140 °C</text>
<text transform="scale(0.9999,1)" x="333.2 375.0 414.7" y="1311.0" font-size="74.9">100</text>
<text transform="scale(0.9817,1)" x="1249.0 1290.5 1331.9 1371.9" y="1311.0" font-size="74.9">1000</text>
<text transform="scale(0.9808,1)" x="191.3 234.9" y="96.9" font-size="77.7">10<tspan x="279.7 297.6" y="67.6 66.2" font-size="49.6" stroke-width="0.20">-4</tspan></text>
<text transform="scale(0.9799,1)" x="194.7 238.2" y="311.8" font-size="77.7">10<tspan x="282.8 300.7" y="282.5 281.1" font-size="49.6" stroke-width="0.20">-5</tspan></text>
<text transform="scale(0.9879,1)" x="193.9 237.1" y="532.8" font-size="77.7">10<tspan x="281.7 299.6" y="503.5 502.1" font-size="49.6" stroke-width="0.20">-6</tspan></text>
<text transform="scale(0.9879,1)" x="196.1 239.0" y="747.7" font-size="77.7">10<tspan x="283.6 301.5" y="718.4 717.0" font-size="49.6" stroke-width="0.20">-7</tspan></text>
<text transform="scale(0.9969,1)" x="198.4 241.2" y="974.7" font-size="77.7">10<tspan x="286.1 303.3" y="945.4 944.0" font-size="49.6" stroke-width="0.20">-8</tspan></text>
<text transform="scale(0.9879,1)" x="203.0 246.8" y="1191.7" font-size="77.7">10<tspan x="291.7 309.0" y="1162.4 1161.0" font-size="49.6" stroke-width="0.20">-9</tspan></text>
<text transform="scale(0.9300,1)" x="1054.3 1102.5 1159.5 1175.6 1197.2 1236.4 1267.4" y="1375.2" font-size="73.2">ΔG (J/m<tspan x="1333.0" y="1351.3" font-size="49.0" stroke-width="0.30">2</tspan><tspan x="1364.7" y="1375.2">)</tspan></text>
<text transform="translate(83.9,900.0) rotate(-90) scale(0.9500,1)" x="6.1 48.8 97.4 126.2 169.7 222.6 239.6 270.0 339.6 364.8 402.2 438.3 476.4 494.6 538.3" y="0.0" font-size="73.2">da/dN (m/cycle)</text>
</svg>
</body></html>
